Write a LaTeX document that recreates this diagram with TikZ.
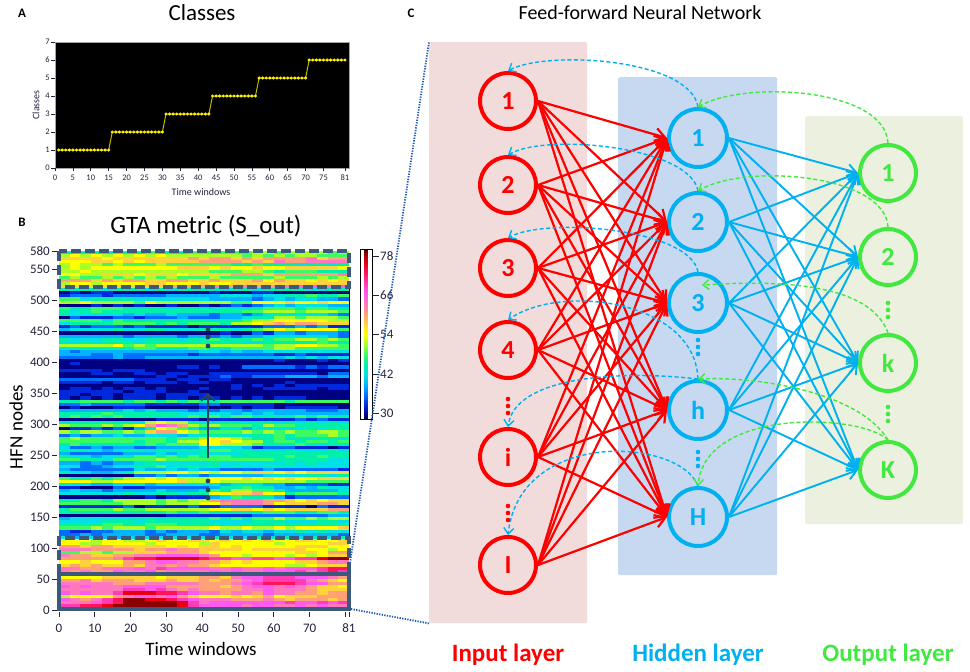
\documentclass[tikz,border=0pt]{standalone}
\usepackage{fontspec}
\setmainfont{Carlito}
\usetikzlibrary{arrows.meta,calc}
\definecolor{nred}{RGB}{255,0,0}
\definecolor{nblue}{RGB}{0,176,240}
\definecolor{ngreen}{RGB}{64,232,64}
\definecolor{inbg}{RGB}{242,220,219}
\definecolor{hidbg}{RGB}{198,217,241}
\definecolor{outbg}{RGB}{235,241,222}
\definecolor{hmframe}{RGB}{60,88,125}
\definecolor{hmdark}{RGB}{45,64,96}
\definecolor{zoomline}{RGB}{30,90,180}
\definecolor{tickc}{RGB}{35,35,60}
\definecolor{stepline}{RGB}{190,190,0}
\definecolor{hm0}{RGB}{0,0,130}
\definecolor{hm1}{RGB}{0,40,220}
\definecolor{hm2}{RGB}{0,110,255}
\definecolor{hm3}{RGB}{0,180,255}
\definecolor{hm4}{RGB}{0,225,230}
\definecolor{hm5}{RGB}{0,240,170}
\definecolor{hm6}{RGB}{60,250,100}
\definecolor{hm7}{RGB}{170,255,40}
\definecolor{hm8}{RGB}{255,255,0}
\definecolor{hm9}{RGB}{255,210,60}
\definecolor{hm10}{RGB}{255,160,120}
\definecolor{hm11}{RGB}{255,120,190}
\definecolor{hm12}{RGB}{255,90,240}
\definecolor{hm13}{RGB}{255,60,180}
\definecolor{hm14}{RGB}{255,20,90}
\definecolor{hm15}{RGB}{230,0,20}
\definecolor{hm16}{RGB}{140,0,0}
\pgfdeclareverticalshading{cbar}{12bp}{color(0bp)=(black); color(1.5bp)=(hm0); color(4.5bp)=(hm1); color(7.5bp)=(hm2); color(10.5bp)=(hm3); color(13.5bp)=(hm4); color(16.5bp)=(hm5); color(19.5bp)=(hm6); color(22.5bp)=(hm7); color(25.5bp)=(hm8); color(28.5bp)=(hm9); color(31.5bp)=(hm10); color(34.5bp)=(hm11); color(37.5bp)=(hm12); color(40.5bp)=(hm13); color(43.5bp)=(hm14); color(46.5bp)=(hm15); color(49.5bp)=(hm16); color(51bp)=(black)}
\newcommand\fs[1]{\fontsize{#1}{#1}\selectfont}
% bump: amplitude, t-centre, y-centre, t-width, y-width
\newcommand\hb[5]{(#1)*max(0,1-((\mytc-(#2))/(#4))*((\mytc-(#2))/(#4))-((\myyc-(#3))/(#5))*((\myyc-(#3))/(#5)))}
\tikzset{
  innode/.style={circle, draw=nred, line width=4, minimum size=56, inner sep=0, text=nred, font=\bfseries\fs{26}},
  hidnode/.style={circle, draw=nblue, line width=4, minimum size=58, inner sep=0, text=nblue, font=\bfseries\fs{26}},
  outnode/.style={circle, draw=ngreen, line width=4, minimum size=56, inner sep=0, text=ngreen, font=\bfseries\fs{26}},
  redarr/.style={draw=nred, line width=2.2, -{Straight Barb[length=10,width=13]}},
  bluearr/.style={draw=nblue, line width=1.9, -{Straight Barb[length=9,width=12]}},
  bdash/.style={draw=nblue, line width=1.4, dash pattern=on 4 off 2.5, -{Straight Barb[length=6,width=10]}},
  gdash/.style={draw=ngreen, line width=1.4, dash pattern=on 4 off 2.5, -{Straight Barb[length=6,width=10]}},
  layerbox/.style={draw=none, rounded corners=2, inner sep=0, anchor=north west},
  layerlab/.style={font=\bfseries\fs{25}},
  ticklab/.style={font=\fs{13}, text=tickc},
  smalltick/.style={font=\fs{8.5}, text=tickc},
  hmbox/.style={draw=hmframe, line width=3.4},
}
\begin{document}
\begin{tikzpicture}[x=1pt,y=-1pt]
\useasboundingbox (0,0) rectangle (970,672);
% ================= Panel A =================
\node[font=\bfseries\fs{13}] (labA) at (22,13) {A};
\node[font=\fs{23}] (titA) at (202,13) {Classes};
\fill[black] (55,42) rectangle (349,168);
\draw[gray!70, line width=0.8] (55,42) rectangle (349,168);
\foreach \c in {0,...,7}{
  \draw[tickc, line width=0.7] (51,168-18*\c) -- (55,168-18*\c);
  \node[smalltick, anchor=east, inner sep=1] (ya\c) at (51,168-18*\c) {\c};
}
\foreach \t in {0,5,...,75,81}{
  \draw[tickc, line width=0.7] (55+3.58*\t,168) -- (55+3.58*\t,171);
  \node[smalltick, inner sep=0] (xa\t) at (55+3.58*\t,178) {\t};
}
\node[font=\fs{10}, text=tickc] (xlabA) at (201,192) {Time windows};
\node[font=\fs{10}, text=tickc, rotate=90] (ylabA) at (36,105) {Classes};
\draw[stepline, line width=1] (55+3.58*1,168-18) -- (55+3.58*15,168-18) -- (55+3.58*16,168-36) -- (55+3.58*30,168-36) -- (55+3.58*31,168-54) -- (55+3.58*43,168-54) -- (55+3.58*44,168-72) -- (55+3.58*56,168-72) -- (55+3.58*57,168-90) -- (55+3.58*70,168-90) -- (55+3.58*71,168-108) -- (55+3.58*81,168-108);
\foreach \t in {1,...,81}{
  \pgfmathtruncatemacro\cl{1+(\t>=16)+(\t>=31)+(\t>=44)+(\t>=57)+(\t>=71)}
  \fill[yellow] (55+3.58*\t,168-18*\cl) circle (1.7);
}
% ================= Panel B =================
\node[font=\bfseries\fs{13}] (labB) at (22,222) {B};
\node[font=\fs{25}] (titB) at (206,226) {GTA metric (S\_out)};
\pgfmathsetseed{4242}
\foreach \r in {0,...,115}{
  \pgfmathsetmacro\myyc{\r*5+2.5}
  \pgfmathsetmacro\dk{rnd}
  \pgfmathsetmacro\base{ifthenelse(\myyc<60, 61+7*rand, ifthenelse(\myyc<117, 60+8*rand, ifthenelse(\myyc<345, ifthenelse(\dk<0.12, 32+2*rand, 45+9*rand), ifthenelse(\myyc<405, 31+3*rand, ifthenelse(\myyc<520, ifthenelse(\dk<0.15, 31+2*rand, 44+8*rand), 55+9*rand)))))}
  \pgfmathsetmacro\drift{6*rand}
  \foreach \c in {0,...,26}{
    \pgfmathsetmacro\mytc{\c*3+1.5}
    \pgfmathsetmacro\v{\base+\drift*(\mytc-40)/40+2*rand+\hb{15}{25}{13}{14}{28}+\hb{11}{62}{45}{16}{20}+\hb{11}{32}{82}{16}{18}+\hb{9}{78}{75}{8}{22}+\hb{16}{30}{295}{9}{13}+\hb{13}{52}{185}{13}{20}+\hb{8}{45}{270}{12}{15}+\hb{9}{68}{470}{18}{45}+\hb{-8}{10}{230}{14}{40}}
    \pgfmathtruncatemacro\idx{max(0,min(16,round((\v-30)/3)))}
    \fill[hm\idx] (59+\c*10.74,610-\r*3.095) rectangle (59+\c*10.74+11.1,610-\r*3.095-3.5);
  }
}
\draw[black, line width=0.8] (349,287) -- (349,538);
\draw[hmbox, dash pattern=on 10 off 4] (59,251) rectangle (349,287);
\draw[hmbox, dash pattern=on 10 off 4] (59,574) -- (59,538) -- (349,538) -- (349,574);
\draw[hmbox, line width=4] (59,574) rectangle (349,609);
\foreach \v in {0,50,...,550,580}{
  \draw[tickc, line width=0.9] (52,610-0.619*\v) -- (57,610-0.619*\v);
  \node[ticklab, anchor=east, inner sep=1] (yb\v) at (51,610-0.619*\v) {\v};
}
\foreach \t in {0,10,...,80,81}{
  \draw[tickc, line width=0.9] (59+3.58*\t,612) -- (59+3.58*\t,617);
}
\foreach \t in {0,10,...,70,81}{
  \node[ticklab, inner sep=0] (xb\t) at (59+3.58*\t,628) {\t};
}
\node[font=\fs{19}, text=black] (xlabB) at (201,649) {Time windows};
\node[font=\fs{19}, text=black, rotate=90] (ylabB) at (16,427) {HFN nodes};
\coordinate (arA) at (208,458);
\coordinate (arB) at (208,393);
\draw[hmdark, line width=2.2, -{Straight Barb[length=6,width=14]}] (arA) -- (arB);
\foreach \y in {329,337,346,481,490,498}{\fill[hmdark] (208,\y) circle (2.4);}
% colorbar
\shade[shading=cbar] (360,249) rectangle (372,419);
\draw[black, line width=0.8] (360,249) rectangle (372,419);
\foreach \v/\y in {78/256,66/295,54/334,42/374,30/413}{
  \draw[tickc, line width=0.9] (373,\y) -- (379,\y);
  \node[ticklab, anchor=west, inner sep=0] (cb\v) at (380,\y) {\v};
}
% ================= Panel C =================
\node[font=\bfseries\fs{13}] (labC) at (411,13) {C};
\node[font=\fs{20}] (titC) at (640,13) {Feed-forward Neural Network};
\node[layerbox, fill=inbg, minimum width=158, minimum height=581] (inbox) at (429,42) {};
\node[layerbox, fill=hidbg, minimum width=159, minimum height=498] (hidbox) at (618,77) {};
\node[layerbox, fill=outbg, minimum width=158, minimum height=408] (outbox) at (805,116) {};
% zoom lines
\coordinate (zA) at (350,563);
\coordinate (zB) at (351,609);
\draw[zoomline, line width=1.8, dash pattern=on 1.3 off 1.3] (zA) -- (inbox.north west);
\draw[zoomline, line width=1.8, dash pattern=on 1.3 off 1.3] (zB) -- (inbox.south west);
% nodes
\node[innode] (i1) at (508,101) {1};
\node[innode] (i2) at (508,185) {2};
\node[innode] (i3) at (508,268) {3};
\node[innode] (i4) at (508,350) {4};
\node[innode] (i5) at (508,457) {i};
\node[innode] (i6) at (508,565) {I};
\node[hidnode] (h1) at (698,138) {1};
\node[hidnode] (h2) at (698,222) {2};
\node[hidnode] (h3) at (698,303) {3};
\node[hidnode] (h4) at (698,410) {h};
\node[hidnode] (h5) at (698,517) {H};
\node[outnode] (o1) at (888,173) {1};
\node[outnode] (o2) at (888,257) {2};
\node[outnode] (o3) at (888,363) {k};
\node[outnode] (o4) at (888,470) {K};
% feed-forward connections
\foreach \a in {1,...,6}{\foreach \b in {1,...,5}{\draw[redarr] (i\a.east) -- (h\b.west);}}
\foreach \a in {1,...,5}{\foreach \b in {1,...,4}{\draw[bluearr] (h\a.east) -- (o\b.west);}}
% feedback connections
\draw[bdash] (h1.north) .. controls (690,58) and (545,50) .. (i1.north);
\draw[bdash] (h2.north) .. controls (690,146) and (545,133) .. (i2.north);
\draw[bdash] (h3.north) .. controls (690,228) and (545,217) .. (i3.north);
\draw[bdash] (h4.north) .. controls (695,300) and (560,283) .. (i4.north);
\draw[bdash] (h4.north) .. controls (620,370) and (515,376) .. (i5.north);
\draw[bdash] (h5.north) .. controls (680,438) and (520,428) .. (i6.north);
\draw[gdash] (o1.north) .. controls (885,88) and (745,80) .. (h1.north);
\draw[gdash] (o2.north) .. controls (885,174) and (745,163) .. (h2.north);
\draw[gdash] (o3.north) .. controls (870,283) and (780,280) .. ($(h3.center)+(4,-18)$);
\draw[gdash] (o4.north) .. controls (860,393) and (760,376) .. (h4.north);
\draw[gdash] (o4.north) .. controls (860,413) and (705,408) .. (h5.north);
% ellipsis dots
\foreach \y in {399,406,413,506,513,520}{\fill[nred] (508,\y) circle (2.3);}
\foreach \y in {340,347,354,452,459,466}{\fill[nblue] (698,\y) circle (2.3);}
\foreach \y in {303,310,317,407,414,421}{\fill[ngreen] (888,\y) circle (2.3);}
% layer labels
\node[layerlab, text=nred] (lin) at (508,655) {Input layer};
\node[layerlab, text=nblue] (lhid) at (698,655) {Hidden layer};
\node[layerlab, text=ngreen] (lout) at (888,655) {Output layer};
\end{tikzpicture}
\end{document}
